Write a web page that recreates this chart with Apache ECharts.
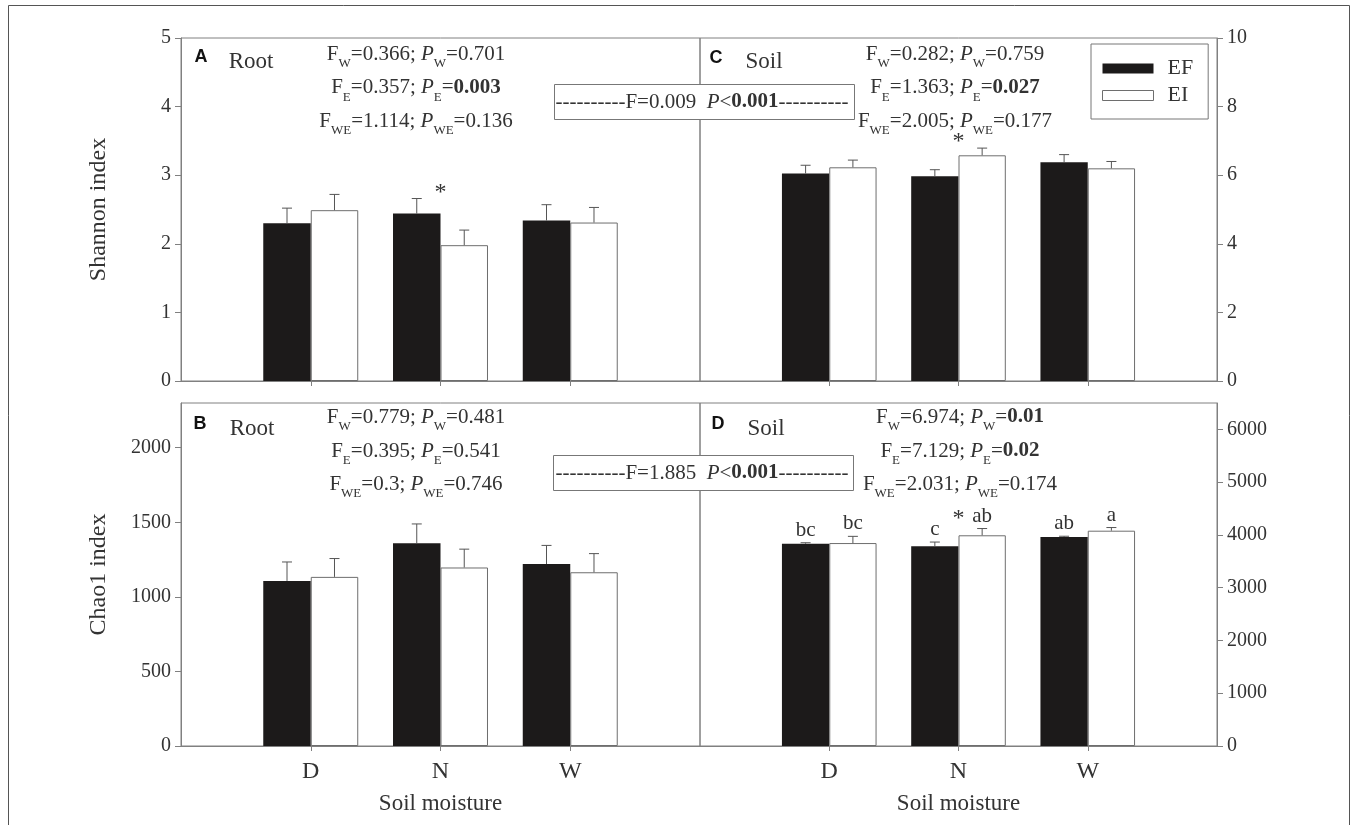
<!DOCTYPE html>
<html>
<head>
<meta charset="utf-8">
<script src="https://cdn.jsdelivr.net/npm/echarts@6/dist/echarts.min.js"></script>
<style>
html,body{margin:0;padding:0;background:#ffffff;}
#chart{width:1358px;height:825px;}
</style>
</head>
<body>
<div id="chart"></div>
<script>
// ---------------- DATA ----------------
const categories = ['D', 'N', 'W'];
const seriesNames = ['EF', 'EI'];

// Panel A : Shannon index, Root
const shannonRootEF = [2.30, 2.44, 2.34];
const shannonRootEFErr = [0.22, 0.22, 0.23];
const shannonRootEI = [2.49, 1.98, 2.31];
const shannonRootEIErr = [0.23, 0.22, 0.22];
const shannonRootStars = ['', '*', ''];

// Panel C : Shannon index, Soil
const shannonSoilEF = [6.05, 5.97, 6.38];
const shannonSoilEFErr = [0.24, 0.19, 0.22];
const shannonSoilEI = [6.23, 6.58, 6.20];
const shannonSoilEIErr = [0.21, 0.21, 0.20];
const shannonSoilStars = ['', '*', ''];

// Panel B : Chao1 index, Root
const chaoRootEF = [1107, 1360, 1220];
const chaoRootEFErr = [127, 129, 125];
const chaoRootEI = [1134, 1197, 1165];
const chaoRootEIErr = [123, 123, 125];
const chaoRootStars = ['', '', ''];

// Panel D : Chao1 index, Soil
const chaoSoilEF = [3832, 3785, 3960];
const chaoSoilEFErr = [20, 80, 15];
const chaoSoilEI = [3846, 3993, 4080];
const chaoSoilEIErr = [127, 128, 60];
const chaoSoilStars = ['', '*', ''];
const chaoSoilEFLetters = ['bc', 'c', 'ab'];
const chaoSoilEILetters = ['bc', 'ab', 'a'];

// Axis tick labels
const shannonRootTicks = [0, 1, 2, 3, 4, 5];
const shannonSoilTicks = [0, 2, 4, 6, 8, 10];
const chaoRootTicks = [0, 500, 1000, 1500, 2000];
const chaoSoilTicks = [0, 1000, 2000, 3000, 4000, 5000, 6000];

// Statistics text
const statsA = ['F{s|W}=0.366; {i|P}{s|W}=0.701', 'F{s|E}=0.357; {i|P}{s|E}={b|0.003}', 'F{s|WE}=1.114; {i|P}{s|WE}=0.136'];
const statsC = ['F{s|W}=0.282; {i|P}{s|W}=0.759', 'F{s|E}=1.363; {i|P}{s|E}={b|0.027}', 'F{s|WE}=2.005; {i|P}{s|WE}=0.177'];
const statsB = ['F{s|W}=0.779; {i|P}{s|W}=0.481', 'F{s|E}=0.395; {i|P}{s|E}=0.541', 'F{s|WE}=0.3; {i|P}{s|WE}=0.746'];
const statsD = ['F{s|W}=6.974; {i|P}{s|W}={b|0.01}', 'F{s|E}=7.129; {i|P}{s|E}={b|0.02}', 'F{s|WE}=2.031; {i|P}{s|WE}=0.174'];
const overallShannon = '----------F=0.009  {i|P}<{b|0.001}----------';
const overallChao = '----------F=1.885  {i|P}<{b|0.001}----------';

// ---------------- STYLE ----------------
const SERIF = "'Liberation Serif', 'Times New Roman', serif";
const SANS = "'Liberation Sans', Arial, sans-serif";
const TXT = '#333333';
const LINE = '#808080';
const BAR_FRAC = 0.366;

const padCats = [' ', ...categories, '  '];
function pad(arr) { return ['-', ...arr, '-']; }

const panels = [
  { ef: shannonRootEF, efErr: shannonRootEFErr, ei: shannonRootEI, eiErr: shannonRootEIErr, stars: shannonRootStars,
    max: 5, ticks: shannonRootTicks, pos: 'left', name: 'Shannon index', bottom: false },
  { ef: shannonSoilEF, efErr: shannonSoilEFErr, ei: shannonSoilEI, eiErr: shannonSoilEIErr, stars: shannonSoilStars,
    max: 10, ticks: shannonSoilTicks, pos: 'right', name: '', bottom: false },
  { ef: chaoRootEF, efErr: chaoRootEFErr, ei: chaoRootEI, eiErr: chaoRootEIErr, stars: chaoRootStars,
    max: 2300, ticks: chaoRootTicks, pos: 'left', name: 'Chao1 index', bottom: true },
  { ef: chaoSoilEF, efErr: chaoSoilEFErr, ei: chaoSoilEI, eiErr: chaoSoilEIErr, stars: chaoSoilStars,
    efLetters: chaoSoilEFLetters, eiLetters: chaoSoilEILetters,
    max: 6500, ticks: chaoSoilTicks, pos: 'right', name: '', bottom: true }
];

const gridBoxes = [
  { left: 181, top: 38, width: 519, height: 343 },
  { left: 700, top: 38, width: 517, height: 343 },
  { left: 181, top: 403, width: 519, height: 343 },
  { left: 700, top: 403, width: 517, height: 343 }
];

const grid = gridBoxes.map(g => Object.assign({ show: true, borderColor: LINE, borderWidth: 1, containLabel: false }, g));

const xAxis = panels.map((p, k) => ({
  type: 'category', gridIndex: k, data: padCats, boundaryGap: false,
  axisLine: { lineStyle: { color: LINE, width: 1 } },
  axisTick: { show: true, length: 5, interval: (idx) => idx >= 1 && idx <= 3, lineStyle: { color: LINE } },
  axisLabel: { show: p.bottom, interval: 0, margin: 14, fontFamily: SERIF, fontSize: 24, color: TXT },
  splitLine: { show: false },
  name: p.bottom ? 'Soil moisture' : '', nameLocation: 'middle', nameGap: 46,
  nameTextStyle: { fontFamily: SERIF, fontSize: 23, color: TXT }
}));

const yAxis = panels.map((p, k) => ({
  type: 'value', gridIndex: k, min: 0, max: p.max, position: p.pos,
  axisLine: { show: true, lineStyle: { color: LINE, width: 1 } },
  axisTick: { show: true, length: 6, customValues: p.ticks, lineStyle: { color: LINE } },
  axisLabel: { customValues: p.ticks, margin: 10, fontFamily: SERIF, fontSize: 20, color: TXT,
    formatter: v => (p.ticks.indexOf(v) >= 0 ? String(v) : '') },
  splitLine: { show: false },
  name: p.name, nameLocation: 'middle', nameGap: 70, nameRotate: 90,
  nameTextStyle: { fontFamily: SERIF, fontSize: 24, color: TXT }
}));

function makeRender(p) {
  return function (params, api) {
    const i = params.dataIndex;
    const cat = api.value(0);
    const band = api.size([1, 0])[0];
    const bw = band * BAR_FRAC;
    const children = [];
    let minY = Infinity;
    const sets = [[1, 2, -1, p.efLetters], [3, 4, 1, p.eiLetters]];
    sets.forEach(([vi, ei, side, letters]) => {
      const v = api.value(vi), e = api.value(ei);
      const p0 = api.coord([cat, v]);
      const p1 = api.coord([cat, v + e]);
      const x = p0[0] + side * bw / 2;
      children.push({ type: 'line', shape: { x1: x, y1: p0[1], x2: x, y2: p1[1] }, style: { stroke: '#555', lineWidth: 1 } });
      children.push({ type: 'line', shape: { x1: x - 5, y1: p1[1], x2: x + 5, y2: p1[1] }, style: { stroke: '#555', lineWidth: 1 } });
      if (letters && letters[i]) {
        children.push({ type: 'text', x: x, y: p1[1] - 2,
          style: { text: letters[i], align: 'center', verticalAlign: 'bottom', fontFamily: SERIF, fontSize: 21, fill: TXT } });
      }
      minY = Math.min(minY, p1[1]);
    });
    if (p.stars && p.stars[i]) {
      const cx = api.coord([cat, 0])[0];
      const off = p.efLetters ? 10 : 6;
      children.push({ type: 'text', x: cx, y: minY - off,
        style: { text: p.stars[i], align: 'center', verticalAlign: 'middle', fontFamily: SERIF, fontSize: 24, fill: TXT } });
    }
    return { type: 'group', children };
  };
}

const series = [];
panels.forEach((p, k) => {
  series.push({
    name: 'EF', type: 'bar', xAxisIndex: k, yAxisIndex: k, data: pad(p.ef),
    barWidth: (BAR_FRAC * 100) + '%', barGap: '0%',
    itemStyle: { color: '#1c1a1a' }, animation: false, silent: true
  });
  series.push({
    name: 'EI', type: 'bar', xAxisIndex: k, yAxisIndex: k, data: pad(p.ei),
    barWidth: (BAR_FRAC * 100) + '%', barGap: '0%',
    itemStyle: { color: '#ffffff', borderColor: '#6e6e6e', borderWidth: 1 }, animation: false, silent: true
  });
  series.push({
    type: 'custom', xAxisIndex: k, yAxisIndex: k, z: 3, animation: false, silent: true,
    renderItem: makeRender(p),
    encode: { x: 0, y: [1, 3] },
    data: categories.map((c, i) => [i + 1, p.ef[i], p.efErr[i], p.ei[i], p.eiErr[i]])
  });
});

function rich(size, sub) {
  return {
    s: { fontFamily: SERIF, fontSize: sub, fill: TXT, padding: [20, 0, 0, 0] },
    i: { fontFamily: SERIF, fontSize: size, fontStyle: 'italic', fill: TXT },
    b: { fontFamily: SERIF, fontSize: size, fontWeight: 'bold', fill: TXT }
  };
}

function statText(x, y, text) {
  return { type: 'text', x: x, y: y, z: 20, silent: true,
    style: { text: text, rich: rich(21, 13), fontFamily: SERIF, fontSize: 21, fill: TXT, align: 'center', verticalAlign: 'middle' } };
}

const graphic = [
  { type: 'rect', silent: true, z: 1, shape: { x: 8.5, y: 5.5, width: 1341, height: 840 }, style: { fill: 'none', stroke: '#555', lineWidth: 1 } },
  // overall boxes
  { type: 'rect', silent: true, z: 15, shape: { x: 554.5, y: 84.5, width: 300, height: 35 }, style: { fill: '#fff', stroke: '#777', lineWidth: 1 } },
  { type: 'rect', silent: true, z: 15, shape: { x: 553.5, y: 455.5, width: 300, height: 35 }, style: { fill: '#fff', stroke: '#777', lineWidth: 1 } },
  statText(702, 102, overallShannon),
  statText(702, 473, overallChao),
  // panel letters
  ...[['A', 201, 57], ['C', 716, 58], ['B', 200, 424], ['D', 718, 424]].map(([t, x, y]) => ({
    type: 'text', x, y, z: 20, silent: true,
    style: { text: t, fontFamily: SANS, fontWeight: 'bold', fontSize: 18, fill: '#111', align: 'center', verticalAlign: 'middle' }
  })),
  ...[['Root', 251, 62], ['Soil', 764, 62], ['Root', 252, 429], ['Soil', 766, 429]].map(([t, x, y]) => ({
    type: 'text', x, y, z: 20, silent: true,
    style: { text: t, fontFamily: SERIF, fontSize: 23, fill: TXT, align: 'center', verticalAlign: 'middle' }
  })),
  ...statsA.map((t, j) => statText(416, [54, 87.5, 121][j], t)),
  ...statsC.map((t, j) => statText(955, [54, 87.5, 121][j], t)),
  ...statsB.map((t, j) => statText(416, [417, 451, 484][j], t)),
  ...statsD.map((t, j) => statText(960, [417, 451, 484][j], t))
];

const option = {
  backgroundColor: '#ffffff',
  animation: false,
  grid, xAxis, yAxis, series, graphic,
  legend: {
    data: [
      { name: 'EF', itemStyle: { color: '#1c1a1a' } },
      { name: 'EI', itemStyle: { color: '#ffffff', borderColor: '#6e6e6e', borderWidth: 1 } }
    ],
    orient: 'vertical', left: 1091, top: 44,
    padding: [11, 15, 10, 11], itemGap: 0, itemWidth: 51, itemHeight: 10, icon: 'rect',
    borderColor: '#777', borderWidth: 1, backgroundColor: '#fff',
    selectedMode: false,
    textStyle: { fontFamily: SERIF, fontSize: 22, color: TXT, lineHeight: 27, padding: [0, 0, 0, 9] }
  }
};

const chart = echarts.init(document.getElementById('chart'), null, { renderer: 'canvas' });
chart.setOption(option);
</script>
</body>
</html>
